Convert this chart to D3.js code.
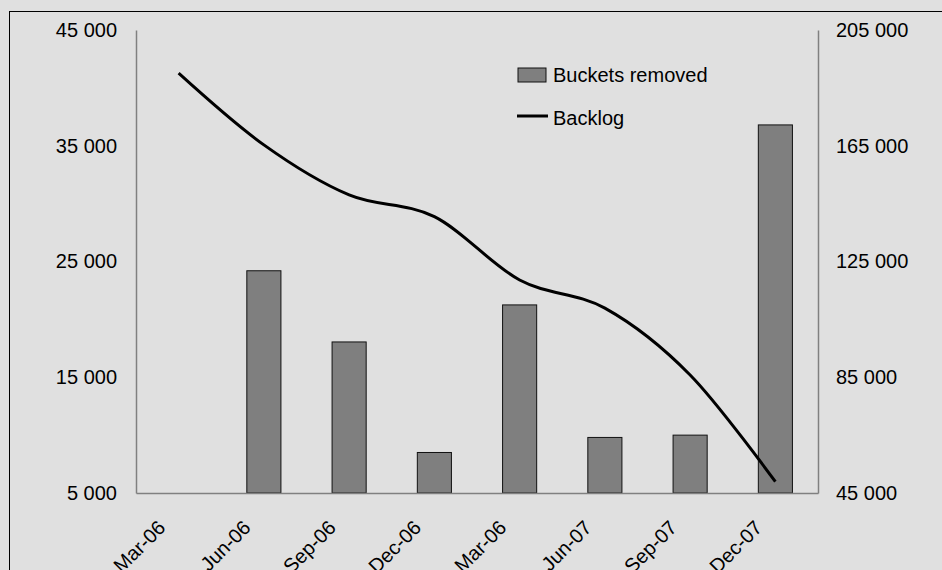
<!DOCTYPE html>
<html>
<head>
<meta charset="utf-8">
<script src="https://cdn.jsdelivr.net/npm/d3@7"></script>
<style>
  html, body { margin: 0; padding: 0; background: #e0e0e0; }
  svg { display: block; font-family: "Liberation Sans", Arial, sans-serif; }
</style>
</head>
<body>
<svg id="chart" width="942" height="570"></svg>
<script>
// quarter labels as printed on the chart (the 5th one really reads Mar-06)
const quarters = ["Mar-06", "Jun-06", "Sep-06", "Dec-06", "Mar-06", "Jun-07", "Sep-07", "Dec-07"]
const bucketsRemoved = [null, 24200, 18050, 8500, 21250, 9800, 10000, 36800]
const backlog = [190100, 165300, 148000, 140500, 118600, 108900, 85800, 48900]
const leftTicks = [5000, 15000, 25000, 35000, 45000]
const rightTicks = [45000, 85000, 125000, 165000, 205000]

const svg = d3.select("#chart")
const margin = { top: 30, right: 124, bottom: 77, left: 136 }
const width = 942 - margin.left - margin.right
const height = 570 - margin.top - margin.bottom

const fmt = d3.formatLocale({ decimal: ".", thousands: " ", grouping: [3], currency: ["", ""] }).format(",d")

// outer frame (runs off the right and bottom edge)
svg.append("rect")
  .attr("x", 9.5).attr("y", 11.5)
  .attr("width", 960).attr("height", 600)
  .attr("fill", "#e0e0e0")
  .attr("stroke", "#000")
  .attr("stroke-width", 1)

const g = svg.append("g").attr("transform", `translate(${margin.left},${margin.top})`)

const x = d3.scaleBand()
  .domain(d3.range(quarters.length))
  .range([0, width])
  .paddingInner(0.6)
  .paddingOuter(0.3)

const yLeft = d3.scaleLinear().domain([5000, 45000]).range([height, 0])
const yRight = d3.scaleLinear().domain([45000, 205000]).range([height, 0])

// bars
g.selectAll("rect.bar")
  .data(bucketsRemoved.map((v, i) => ({ i, v })).filter(d => d.v != null))
  .enter().append("rect")
  .attr("class", "bar")
  .attr("x", d => x(d.i))
  .attr("width", x.bandwidth())
  .attr("y", d => yLeft(d.v))
  .attr("height", d => yLeft(5000) - yLeft(d.v))
  .attr("fill", "#7f7f7f")
  .attr("stroke", "#111")
  .attr("stroke-width", 1)

// axes
const styleAxis = sel => {
  sel.select(".domain").attr("stroke", "#808080").attr("stroke-width", 1.5)
  sel.selectAll("text").attr("fill", "#000").attr("font-size", 20)
    .attr("font-family", "Liberation Sans, Arial, sans-serif")
}

g.append("g")
  .call(d3.axisLeft(yLeft).tickValues(leftTicks).tickFormat(fmt).tickSize(0).tickPadding(19))
  .call(styleAxis)

g.append("g")
  .attr("transform", `translate(${width},0)`)
  .call(d3.axisRight(yRight).tickValues(rightTicks).tickFormat(fmt).tickSize(0).tickPadding(18))
  .call(styleAxis)

const xAxis = g.append("g")
  .attr("transform", `translate(0,${height})`)
  .call(d3.axisBottom(x).tickFormat(i => quarters[i]).tickSize(0))
  .call(styleAxis)

xAxis.selectAll("text")
  .attr("text-anchor", "end")
  .attr("dy", null)
  .attr("y", null)
  .attr("transform", "translate(-12,36) rotate(-45)")

// backlog line
const line = d3.line()
  .x((d, i) => x(i) + x.bandwidth() / 2)
  .y(d => yRight(d))
  .curve(d3.curveCardinal.tension(0))

g.append("path")
  .datum(backlog)
  .attr("d", line)
  .attr("fill", "none")
  .attr("stroke", "#000")
  .attr("stroke-width", 3)

// legend
const legend = svg.append("g").attr("font-size", 20)
legend.append("rect")
  .attr("x", 518).attr("y", 68)
  .attr("width", 28).attr("height", 14)
  .attr("fill", "#7f7f7f").attr("stroke", "#111")
legend.append("text").attr("x", 553).attr("y", 82).text("Buckets removed")
legend.append("line")
  .attr("x1", 517).attr("x2", 548)
  .attr("y1", 116).attr("y2", 116)
  .attr("stroke", "#000").attr("stroke-width", 3)
legend.append("text").attr("x", 553).attr("y", 125).text("Backlog")
</script>
</body>
</html>
